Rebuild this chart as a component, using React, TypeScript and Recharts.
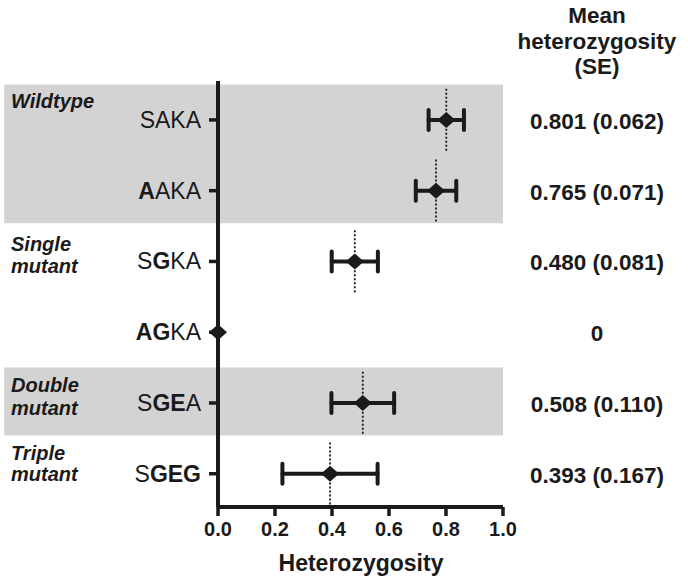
import React from "react";
import {
  ScatterChart,
  Scatter,
  XAxis,
  YAxis,
  ErrorBar,
  ReferenceLine,
  ReferenceArea,
} from "recharts";

const rows = ["SAKA", "AAKA", "SGKA", "AGKA", "SGEA", "SGEG"];
const boldMasks = ["0000", "1000", "0100", "1100", "0110", "0111"];
const means = [0.801, 0.765, 0.48, 0, 0.508, 0.393];
const ses = [0.062, 0.071, 0.081, 0, 0.11, 0.167];
const meanLabels = [
  "0.801 (0.062)",
  "0.765 (0.071)",
  "0.480 (0.081)",
  "0",
  "0.508 (0.110)",
  "0.393 (0.167)",
];
const groupNames = [["Wildtype"], ["Single", "mutant"], ["Double", "mutant"], ["Triple", "mutant"]];
const groupStartRows = [0, 2, 4, 5];
const groupEndRows = [1, 3, 4, 5];
const shadedGroups = [0, 2];
const headerLines = ["Mean", "heterozygosity", "(SE)"];
const xTicks = [0, 0.2, 0.4, 0.6, 0.8, 1.0];
const xLabel = "Heterozygosity";

const FONT = '"Liberation Sans", Arial, sans-serif';
const INK = "#1a1a1a";

const data = rows.map((r, i) => ({ row: i, mean: means[i], se: ses[i] }));

const groupOffsets: number[][] = [[-12], [-10, 12], [-11, 12], [-14, 7]];

const YTick = (props: any) => {
  const { x, y, payload } = props;
  const i = payload.value as number;
  const label = rows[i];
  const mask = boldMasks[i];
  const g = groupStartRows.indexOf(i);
  return (
    <g>
      <text x={x} y={y + 8} textAnchor="end" fontFamily={FONT} fontSize={23} fill={INK}>
        {label.split("").map((c, k) => (
          <tspan key={k} fontWeight={mask[k] === "1" ? "bold" : "normal"}>
            {c}
          </tspan>
        ))}
      </text>
      {g >= 0 &&
        groupNames[g].map((line, k) => (
          <text
            key={k}
            x={11}
            y={y + groupOffsets[g][k]}
            fontFamily={FONT}
            fontSize={20}
            fontWeight="bold"
            fontStyle="italic"
            fill={INK}
          >
            {line}
          </text>
        ))}
      <text
        x={597}
        y={y + 9}
        textAnchor="middle"
        fontFamily={FONT}
        fontSize={22.5}
        fontWeight="bold"
        fill={INK}
      >
        {meanLabels[i]}
      </text>
    </g>
  );
};

const Diamond = (props: any) => {
  const { cx, cy } = props;
  const w = 9;
  const h = 8;
  return (
    <polygon
      points={`${cx - w},${cy} ${cx},${cy - h} ${cx + w},${cy} ${cx},${cy + h}`}
      fill={INK}
    />
  );
};

export default function App() {
  return (
    <div style={{ position: "absolute", left: 0, top: 0 }}>
      <ScatterChart
        width={688}
        height={581}
        margin={{ top: 81, right: 185, bottom: 0, left: 0 }}
      >
        {shadedGroups.map((g) => (
          <ReferenceArea
            key={g}
            x1={-0.75}
            x2={1.0}
            y1={groupStartRows[g] - 0.5}
            y2={groupEndRows[g] + 0.46}
            fill="#d3d3d3"
            fillOpacity={1}
            stroke="none"
            ifOverflow="visible"
          />
        ))}
        <XAxis
          type="number"
          dataKey="mean"
          domain={[0, 1]}
          ticks={xTicks}
          tickFormatter={(v: number) => v.toFixed(1)}
          height={74}
          tickSize={9}
          tickMargin={6}
          axisLine={{ stroke: INK, strokeWidth: 4 }}
          tickLine={{ stroke: INK, strokeWidth: 3.5 }}
          tick={{ fill: INK, fontSize: 20, fontWeight: "bold", fontFamily: FONT }}
          interval={0}
        />
        <YAxis
          type="number"
          dataKey="row"
          domain={[-0.55, 5.47]}
          ticks={[0, 1, 2, 3, 4, 5]}
          reversed
          width={218}
          tickSize={9}
          tickMargin={8}
          axisLine={{ stroke: INK, strokeWidth: 4 }}
          tickLine={{ stroke: INK, strokeWidth: 3.5 }}
          tick={<YTick />}
          interval={0}
        />
        {data
          .filter((d) => d.mean > 0)
          .map((d) => (
            <ReferenceLine
              key={d.row}
              segment={[
                { x: d.mean, y: d.row - 0.44 },
                { x: d.mean, y: d.row + 0.44 },
              ]}
              stroke={INK}
              strokeWidth={1.8}
              strokeDasharray="2 2"
            />
          ))}
        <Scatter data={data} shape={<Diamond />} isAnimationActive={false}>
          <ErrorBar
            dataKey="se"
            direction="x"
            width={10}
            stroke={INK}
            strokeWidth={4}
            strokeLinecap="round"
          />
        </Scatter>
        {headerLines.map((t, k) => (
          <text
            key={k}
            x={597}
            y={23 + k * 25.5}
            textAnchor="middle"
            fontFamily={FONT}
            fontSize={22.5}
            fontWeight="bold"
            fill={INK}
          >
            {t}
          </text>
        ))}
        <text
          x={361}
          y={571}
          textAnchor="middle"
          fontFamily={FONT}
          fontSize={23}
          fontWeight="bold"
          fill={INK}
        >
          {xLabel}
        </text>
      </ScatterChart>
    </div>
  );
}
